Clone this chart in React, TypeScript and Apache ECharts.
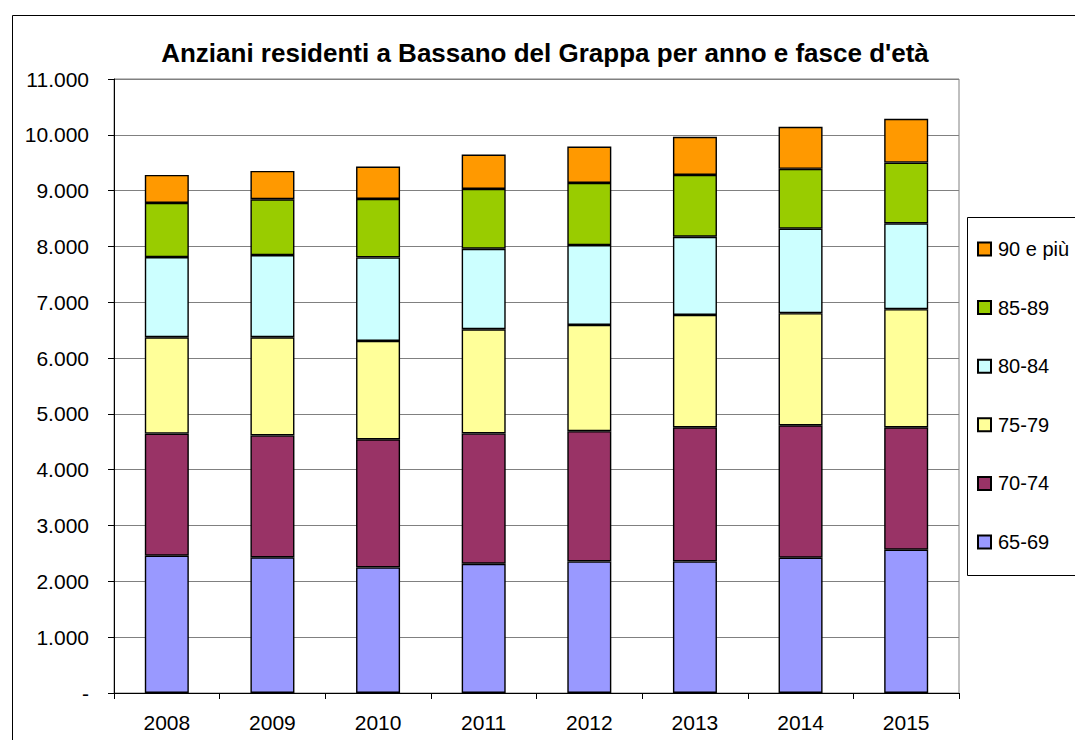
import React, { useEffect, useRef } from "react";
import * as echarts from "echarts";

const years = ["2008", "2009", "2010", "2011", "2012", "2013", "2014", "2015"];
const ageBands = ["65-69", "70-74", "75-79", "80-84", "85-89", "90 e più"];
const age65_69 = [2460, 2430, 2250, 2316, 2357, 2357, 2424, 2567];
const age70_74 = [2188, 2184, 2295, 2334, 2333, 2403, 2372, 2193];
const age75_79 = [1725, 1759, 1762, 1867, 1904, 2014, 2008, 2116];
const age80_84 = [1437, 1473, 1497, 1442, 1431, 1400, 1514, 1538];
const age85_89 = [969, 1000, 1047, 1072, 1113, 1108, 1072, 1089];
const age90plus = [503, 508, 580, 616, 652, 682, 754, 784];
const bandColors = ["#9999FF", "#993366", "#FFFF99", "#CCFFFF", "#99CC00", "#FF9900"];
const yTicks = [0, 1000, 2000, 3000, 4000, 5000, 6000, 7000, 8000, 9000, 10000, 11000];

const FONT = "Liberation Sans, Arial, sans-serif";

function fmt(v: number): string {
  if (v === 0) return "-";
  return String(v).replace(/\B(?=(\d{3})+(?!\d))/g, ".");
}

export default function App() {
  const ref = useRef<HTMLDivElement>(null);
  useEffect(() => {
    if (!ref.current) return;
    const chart = echarts.init(ref.current, undefined, { renderer: "svg" });
    const values = [age65_69, age70_74, age75_79, age80_84, age85_89, age90plus];
    chart.setOption({
      animation: false,
      backgroundColor: "#ffffff",
      title: {
        text: "Anziani residenti a Bassano del Grappa per anno e fasce d'età",
        left: 540,
        textAlign: "center",
        top: 35,
        textStyle: { fontFamily: FONT, fontSize: 26, fontWeight: "bold", color: "#000" },
      },
      grid: {
        left: 114,
        right: 116,
        top: 79,
        bottom: 47,
        show: true,
        borderColor: "#808080",
        borderWidth: 1,
      },
      legend: {
        orient: "vertical",
        left: 972,
        top: 234,
        itemWidth: 13,
        itemHeight: 13,
        itemGap: 38.6,
        icon: "rect",
        data: ageBands.slice().reverse(),
        textStyle: { fontFamily: FONT, fontSize: 20, color: "#000", padding: [0, 0, 0, 2] },
      },
      xAxis: {
        type: "category",
        data: years,
        axisLine: { lineStyle: { color: "#000", width: 1 } },
        axisTick: { show: true, length: 6, lineStyle: { color: "#000" } },
        axisLabel: { fontFamily: FONT, fontSize: 21, color: "#000", margin: 19 },
      },
      yAxis: {
        type: "value",
        min: yTicks[0],
        max: yTicks[yTicks.length - 1],
        interval: 1000,
        axisLine: { show: true, lineStyle: { color: "#000", width: 1 } },
        axisTick: { show: true, length: 6, lineStyle: { color: "#000" } },
        splitLine: { lineStyle: { color: "#808080", width: 1 } },
        axisLabel: {
          fontFamily: FONT,
          fontSize: 21,
          color: "#000",
          margin: 25,
          formatter: (v: number) => fmt(v),
        },
      },
      series: ageBands.map((name, i) => ({
        name,
        type: "bar",
        stack: "total",
        barWidth: 44,
        data: values[i],
        itemStyle: { color: bandColors[i], borderColor: "#000", borderWidth: 1.4 },
      })),
      graphic: [
        {
          type: "rect",
          shape: { x: 12.5, y: 15.5, width: 1200, height: 900 },
          style: { fill: "none", stroke: "#000", lineWidth: 1 },
          silent: true,
        },
        {
          type: "rect",
          shape: { x: 967.5, y: 217.5, width: 200, height: 358 },
          style: { fill: "none", stroke: "#000", lineWidth: 1 },
          silent: true,
        },
      ],
    });
    return () => chart.dispose();
  }, []);
  return (
    <div
      ref={ref}
      style={{ position: "fixed", left: 0, top: 0, width: 1075, height: 740 }}
    />
  );
}
